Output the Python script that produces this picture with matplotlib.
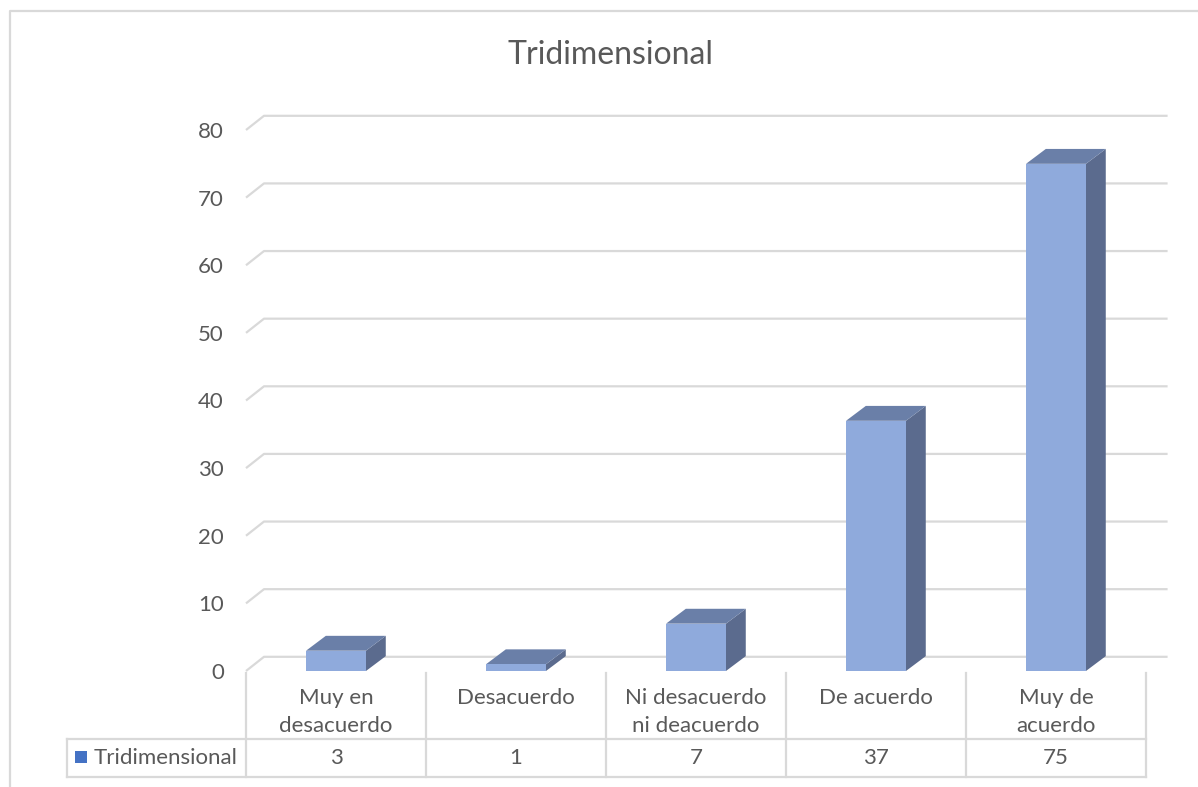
import matplotlib.pyplot as plt
from matplotlib.patches import Rectangle, Polygon
from matplotlib.lines import Line2D

plt.rcParams['font.family'] = ['Lato', 'DejaVu Sans']

# data
categories = ['Muy en\ndesacuerdo', 'Desacuerdo', 'Ni desacuerdo\nni deacuerdo', 'De acuerdo', 'Muy de\nacuerdo']
values = [3, 1, 7, 37, 75]
series_name = 'Tridimensional'
yticks = [0, 10, 20, 30, 40, 50, 60, 70, 80]

text_c = '#595959'
grid_c = '#D9D9D9'
front_c = '#8FAADC'
top_c = '#6A7FA8'
side_c = '#5B6B8E'

W, H = 1198, 787
fig = plt.figure(figsize=(W / 100, H / 100), dpi=100)

# plot area in pixels: front plane x 246..1146, y 130 (80) .. 671 (0)
ax = fig.add_axes([246 / W, 1 - 671 / H, 900 / W, 541 / H])
ax.set_xlim(-0.5, 4.5)
ax.set_ylim(0, 80)
for s in ax.spines.values():
    s.set_visible(False)
ax.set_xticks([])
ax.set_yticks(yticks)
ax.tick_params(axis='y', length=0, pad=16, labelsize=16, labelcolor=text_c)

# depth offsets (data units)
DX, DY = 0.1, 2.1
BDX, BDY = 0.11, 2.2
bw = 0.333

# back wall gridlines with the slanted left edge
for v in yticks:
    ax.plot([-0.5, -0.5 + DX, 4.62], [v, v + DY, v + DY], color=grid_c,
            lw=1.6, clip_on=False, zorder=1, solid_capstyle='butt')

# 3D columns
for i, v in enumerate(values):
    x0, x1 = i - bw / 2, i + bw / 2
    ax.add_patch(Polygon([(x1, 0), (x1 + BDX, BDY), (x1 + BDX, v + BDY), (x1, v)],
                         closed=True, fc=side_c, ec='none', zorder=3, clip_on=False))
    ax.add_patch(Polygon([(x0, v), (x1, v), (x1 + BDX, v + BDY), (x0 + BDX, v + BDY)],
                         closed=True, fc=top_c, ec='none', zorder=3, clip_on=False))
    ax.add_patch(Rectangle((x0, 0), bw, v, fc=front_c, ec='none', zorder=4, clip_on=False))

# data table below the plot
tr = ax.get_xaxis_transform()


def fy(py):
    return (671 - py) / 541


leg_x = -1.494
for k in range(len(categories) + 1):
    ax.add_line(Line2D([-0.5 + k, -0.5 + k], [fy(673), fy(777)], transform=tr,
                       color=grid_c, lw=1.6, clip_on=False))
ax.add_line(Line2D([leg_x, leg_x], [fy(739), fy(777)], transform=tr,
                   color=grid_c, lw=1.6, clip_on=False))
for py in (739, 777):
    ax.add_line(Line2D([leg_x, 4.5], [fy(py), fy(py)], transform=tr,
                       color=grid_c, lw=1.6, clip_on=False))

for i, (c, v) in enumerate(zip(categories, values)):
    ax.text(i, fy(688), c, transform=tr, ha='center', va='top', fontsize=16,
            color=text_c, linespacing=1.5)
    ax.text(i, fy(758), str(v), transform=tr, ha='center', va='center',
            fontsize=16, color=text_c)

ax.add_patch(Rectangle((leg_x + 0.045, fy(763)), 0.065, 12 / 541, transform=tr,
                       fc='#4472C4', ec='none', clip_on=False))
ax.text(leg_x + 0.15, fy(758), series_name, transform=tr, ha='left', va='center',
        fontsize=16, color=text_c)

# title
fig.text(610 / W, 1 - 55 / H, 'Tridimensional', ha='center', va='center',
         fontsize=23, color=text_c)

# chart area border (left and top edges visible)
fig.add_artist(Line2D([10 / W, 10 / W, 1], [0, 1 - 11 / H, 1 - 11 / H],
                      transform=fig.transFigure, color=grid_c, lw=1.6))

fig.savefig('out.png', dpi=100)
